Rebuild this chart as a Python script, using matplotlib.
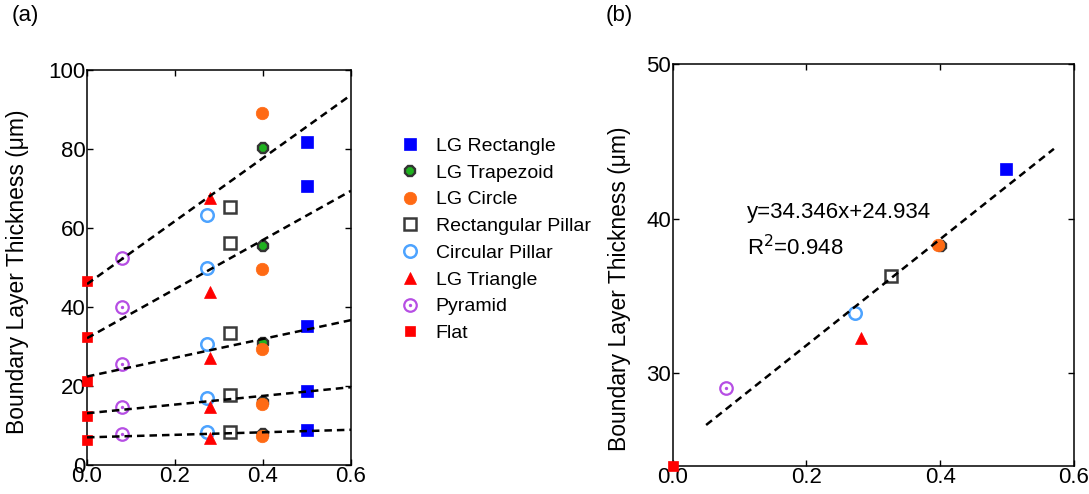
import numpy as np
import matplotlib.pyplot as plt
from matplotlib.legend_handler import HandlerTuple

plt.rcParams['font.family'] = ['Liberation Sans', 'DejaVu Sans']

# ---- data, panel (a): five thickness levels per structure ----
names = ['LG Rectangle', 'LG Trapezoid', 'LG Circle', 'Rectangular Pillar',
         'Circular Pillar', 'LG Triangle', 'Pyramid', 'Flat']
x_a = [0.499, 0.401, 0.398, 0.326, 0.273, 0.279, 0.080, 0.0]
y_rect = [81.8, 70.6, 35.1, 18.8, 8.9]
y_trap = [80.3, 55.5, 30.8, 16.0, 7.8]
y_circ = [89.1, 49.5, 29.3, 15.4, 7.4]
y_rpil = [65.3, 56.1, 33.5, 17.7, 8.4]
y_cpil = [63.3, 49.8, 30.6, 17.0, 8.3]
y_tri = [67.7, 43.8, 27.2, 14.6, 6.9]
y_pyr = [52.5, 39.9, 25.5, 14.8, 7.8]
y_flat = [46.7, 32.5, 21.3, 12.5, 6.3]
ys_a = [y_rect, y_trap, y_circ, y_rpil, y_cpil, y_tri, y_pyr, y_flat]

# dashed fit lines in (a)
fit_int = [45.8, 32.1, 22.4, 13.1, 7.0]
fit_slope = [79.8, 62.2, 23.8, 11.0, 3.2]

# ---- data, panel (b) ----
x_b = [0.499, 0.401, 0.396, 0.326, 0.272, 0.281, 0.079, 0.0]
y_b = [43.23, 38.2, 38.26, 36.28, 33.9, 32.26, 29.03, 24.0]
slope_b, int_b = 34.346, 24.934
fit_x_b = [0.05, 0.57]

# marker styles
styles = [
    dict(marker='s', ms=8.5, mfc='#0000ff', mec='#0000ff', mew=0.5),
    dict(marker='8', ms=8.5, mfc='#1fb11f', mec='#333333', mew=1.7),
    dict(marker='o', ms=9, mfc='#ff6a14', mec='#ff6a14', mew=0.5),
    dict(marker='s', ms=8, mfc='white', mec='#3a3a3a', mew=1.8),
    dict(marker='o', ms=9, mfc='white', mec='#4da3ff', mew=1.8),
    dict(marker='^', ms=9, mfc='#ff0000', mec='#ff0000', mew=0.5),
    dict(marker='o', ms=9, mfc='white', mec='#b64ee4', mew=1.6),
    dict(marker='s', ms=7, mfc='#ff0000', mec='#ff0000', mew=0.5),
]
dot = dict(marker='o', ms=2.4, mfc='#b64ee4', mec='#b64ee4', mew=0)

fig = plt.figure(figsize=(10.89, 4.94), dpi=100)
ax1 = fig.add_axes([0.0799, 0.0587, 0.2424, 0.7996])
ax2 = fig.add_axes([0.6177, 0.0567, 0.3685, 0.8138])


def style_axes(ax):
    ax.tick_params(direction='in', top=True, right=True, length=4.5, width=1,
                   labelsize=16, pad=1.0, colors='black')
    for sp in ax.spines.values():
        sp.set_linewidth(1.1)


handles = []
for i, name in enumerate(names):
    h, = ax1.plot([x_a[i]] * len(ys_a[i]), ys_a[i], ls='none', clip_on=False,
                  zorder=3, **styles[i])
    if name == 'Pyramid':
        d, = ax1.plot([x_a[i]] * len(ys_a[i]), ys_a[i], ls='none', zorder=4, **dot)
        handles.append((h, d))
    else:
        handles.append(h)

xx = np.array([0.0, 0.6])
for b, m in zip(fit_int, fit_slope):
    ax1.plot(xx, b + m * xx, color='black', lw=1.8, dashes=(3, 2), zorder=5)

ax1.set_xlim(0, 0.6)
ax1.set_ylim(0, 100)
ax1.set_xticks([0, 0.2, 0.4, 0.6])
ax1.set_yticks([0, 20, 40, 60, 80, 100])
ax1.xaxis.set_major_formatter(plt.FormatStrFormatter('%.1f'))
ax1.set_ylabel('Boundary Layer Thickness (\u03bcm)', fontsize=16.5)
ax1.yaxis.set_label_coords(-0.22, 0.49)
style_axes(ax1)

for i, name in enumerate(names):
    ax2.plot(x_b[i], y_b[i], ls='none', clip_on=False, zorder=3, **styles[i])
    if name == 'Pyramid':
        ax2.plot(x_b[i], y_b[i], ls='none', zorder=4, **dot)

fx = np.array(fit_x_b)
ax2.plot(fx, slope_b * fx + int_b, color='black', lw=1.8, dashes=(3, 2), zorder=5)
ax2.text(0.111, 40.4, 'y=34.346x+24.934', fontsize=16, va='center')
ax2.text(0.111, 38.1, 'R$^2$=0.948', fontsize=16, va='center')

ax2.set_xlim(0, 0.6)
ax2.set_ylim(24, 50)
ax2.set_xticks([0, 0.2, 0.4, 0.6])
ax2.set_yticks([30, 40, 50])
ax2.xaxis.set_major_formatter(plt.FormatStrFormatter('%.1f'))
ax2.set_ylabel('Boundary Layer Thickness (\u03bcm)', fontsize=16.5)
ax2.yaxis.set_label_coords(-0.104, 0.44)
style_axes(ax2)

fig.legend(handles, names, loc='upper left', bbox_to_anchor=(0.360, 0.738),
           frameon=False, fontsize=14, handlelength=1.0, handletextpad=0.85,
           labelspacing=0.47, borderaxespad=0,
           handler_map={tuple: HandlerTuple(ndivide=1, pad=0)})

fig.text(0.011, 0.968, '(a)', fontsize=16, va='center')
fig.text(0.556, 0.968, '(b)', fontsize=16, va='center')

fig.savefig('out.png', dpi=100)
